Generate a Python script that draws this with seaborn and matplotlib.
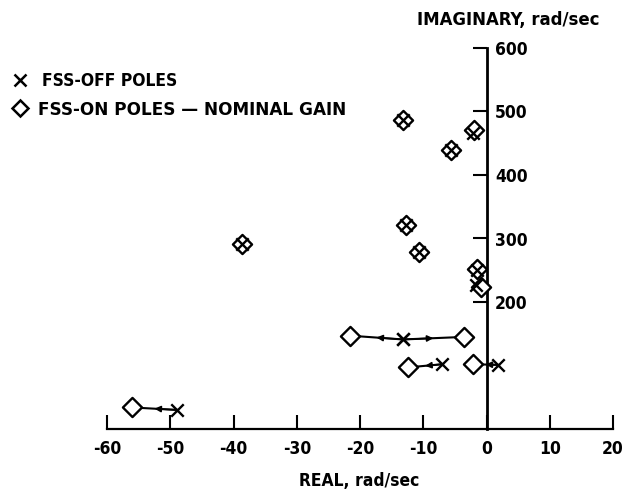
import matplotlib
matplotlib.use("Agg")
import matplotlib.pyplot as plt
from matplotlib.lines import Line2D
import seaborn as sns
import pandas as pd

# FSS-off poles (x markers) and FSS-on poles (diamonds), paired by index
off_re = [-48.9, -13.2, -13.2, -7.0, 1.8, -13.2, -5.6, -2.2, -38.6, -12.7, -10.6, -1.5, -1.6]
off_im = [30, 141, 141, 102, 101, 487, 440, 466, 292, 321, 279, 250, 227]
on_re = [-56.1, -21.6, -3.6, -12.4, -2.1, -13.2, -5.6, -2.0, -38.6, -12.7, -10.6, -1.5, -0.9]
on_im = [34, 147, 145, 97, 102, 487, 440, 471, 292, 321, 279, 252, 224]
moving = [0, 1, 2, 3, 4]  # pairs joined by arrows

x_ticks = [-60, -50, -40, -30, -20, -10, 0, 10, 20]
x_labels = ["-60", "-50", "-40", "-30", "-20", "-10", "0", "10", "20"]
y_ticks = [200, 300, 400, 500, 600]
y_labels = ["200", "300", "400", "500", "600"]

sns.set_style("white")
FONT = ["DejaVu Sans"]
plt.rcParams["font.family"] = FONT
plt.rcParams["font.weight"] = "bold"
plt.rcParams["font.stretch"] = "condensed"
plt.rcParams["text.color"] = "black"
plt.rcParams["xtick.color"] = "black"
plt.rcParams["ytick.color"] = "black"
plt.rcParams["axes.edgecolor"] = "black"

FS = 12.5
TXT = dict(fontsize=FS, fontweight="bold", fontstretch="condensed")

fig = plt.figure(figsize=(6.31, 4.94), dpi=100)
ax = fig.add_axes([107 / 631, 1 - 429 / 494, (613 - 107) / 631, (429 - 48) / 494])

df_off = pd.DataFrame({"re": off_re, "im": off_im})
df_on = pd.DataFrame({"re": on_re, "im": on_im})

# arrows: line from off pole to on pole, arrowhead at midpoint
for i in moving:
    ax.plot([off_re[i], on_re[i]], [off_im[i], on_im[i]], color="black", lw=1.5, zorder=2)
    mx = (off_re[i] + on_re[i]) / 2
    my = (off_im[i] + on_im[i]) / 2
    ax.annotate("", xy=(mx, my), xytext=(off_re[i], off_im[i]),
                arrowprops=dict(arrowstyle="-|>", color="black", lw=1.2,
                                mutation_scale=9, shrinkA=0, shrinkB=0), zorder=2)

sns.scatterplot(data=df_on, x="re", y="im", marker="D", s=95, facecolor="white",
                edgecolor="black", linewidth=1.7, ax=ax, zorder=3)
sns.scatterplot(data=df_off, x="re", y="im", marker="x", s=80, color="black",
                linewidth=1.7, ax=ax, zorder=4)

ax.set_xlim(-60, 20)
ax.set_ylim(0, 600)
ax.set_xlabel("")
ax.set_ylabel("")

for s in ["top", "left"]:
    ax.spines[s].set_visible(False)
ax.spines["bottom"].set_linewidth(1.6)
ax.spines["right"].set_linewidth(2.0)
ax.spines["right"].set_position(("data", 0))
ax.spines["right"].set_bounds(0, 600)
ax.spines["bottom"].set_bounds(-60, 20)

ax.yaxis.tick_right()
ax.set_yticks(y_ticks)
ax.set_yticklabels(y_labels)
ax.set_xticks(x_ticks)
ax.set_xticklabels(x_labels)
ax.tick_params(axis="x", direction="in", length=10, width=1.5, pad=8,
               labelsize=FS, bottom=True, top=False, colors="black")
ax.tick_params(axis="y", direction="in", length=10, width=1.5, pad=6,
               labelsize=FS, right=True, left=False, colors="black")
for lab in ax.get_xticklabels() + ax.get_yticklabels():
    lab.set_fontweight("bold")
    lab.set_fontstretch("condensed")

fig.text(359 / 631, 1 - 481 / 494, "REAL, rad/sec", ha="center", va="center", **TXT)
fig.text(508 / 631, 1 - 25 / 494, "IMAGINARY, rad/sec", ha="center", va="baseline",
         fontsize=13.2, fontweight="bold", fontstretch="condensed")

# legend
fig.add_artist(Line2D([20 / 631], [1 - 79.5 / 494], transform=fig.transFigure,
                      marker="x", markersize=8, color="black", mew=1.8, linestyle="none"))
fig.add_artist(Line2D([20 / 631], [1 - 108.5 / 494], transform=fig.transFigure,
                      marker="D", markersize=8.2, markerfacecolor="white",
                      markeredgecolor="black", mew=1.8, linestyle="none"))
fig.text(42 / 631, 1 - 86 / 494, "FSS-OFF POLES", ha="left", va="baseline", **TXT)
fig.text(38 / 631, 1 - 115 / 494, "FSS-ON POLES \u2014 NOMINAL GAIN", ha="left",
         va="baseline", fontsize=12.2, fontweight="bold", fontstretch="normal")

fig.savefig("out.png", dpi=100)
